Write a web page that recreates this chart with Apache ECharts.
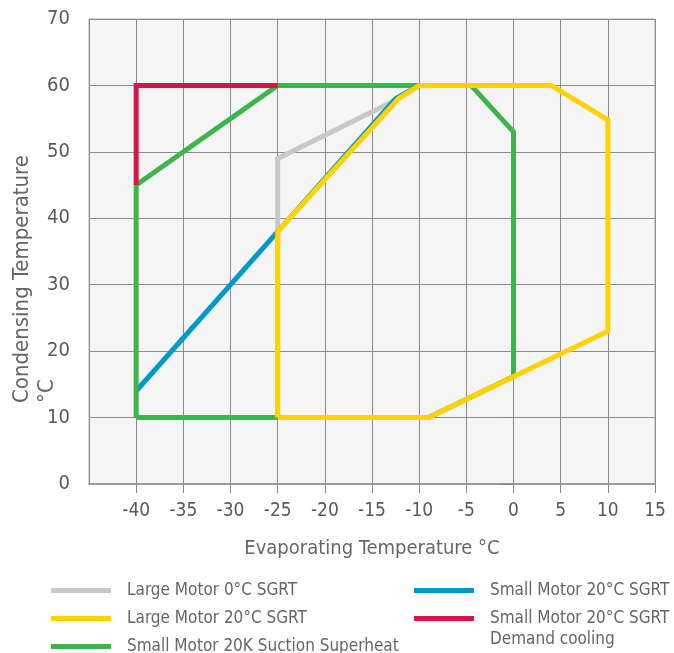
<!DOCTYPE html>
<html>
<head>
<meta charset="utf-8">
<script src="https://cdn.jsdelivr.net/npm/echarts@6/dist/echarts.min.js"></script>
<style>
html,body{margin:0;padding:0;background:#fff;}
#chart{width:674px;height:653px;}
</style>
</head>
<body>
<div id="chart"></div>
<script>
// ---- data (Evaporating °C, Condensing °C) ----
const seriesNames = [
  'Large Motor 0°C SGRT',
  'Large Motor 20°C SGRT',
  'Small Motor 20K Suction Superheat',
  'Small Motor 20°C SGRT',
  'Small Motor 20°C SGRT Demand cooling'
];
const largeMotor0 = [[-25,10],[-25,49],[-12.2,58],[-10,60]];
const largeMotor20 = [[-25,10],[-25,38],[-12.2,58],[-10,60],[4,60],[10,54.8],[10,23],[-9,10],[-25,10]];
const smallMotor20K = [[-40,10],[-40,45],[-25,60],[-4.5,60],[0,53],[0,16.2],[-9,10],[-40,10]];
const smallMotor20 = [[-40,14],[-25,38],[-12.5,58],[-10,60]];
const smallMotorDemand = [[-40,45],[-40,60],[-25,60]];
const xTicks = [-45,-40,-35,-30,-25,-20,-15,-10,-5,0,5,10,15];
const yTicks = [0,10,20,30,40,50,60,70];
const xTitle = 'Evaporating Temperature °C';
const yTitle = 'Condensing Temperature\n°C';
const demandNote = 'Demand cooling';

const colors = ['#c8c8c8','#ffd200','#3cb54a','#0099cc','#d6164a'];
const FONT = '"DejaVu Sans Condensed", "DejaVu Sans", sans-serif';

const chart = echarts.init(document.getElementById('chart'));

function lineSeries(name, data, color, z){
  return {
    name: name, type: 'line', data: data, showSymbol: false, symbol: 'none',
    z: z, animation: false, silent: true,
    lineStyle: { width: 5, color: color, join: 'miter', cap: 'butt' },
    itemStyle: { color: color }
  };
}

const legendText = { fontFamily: FONT, fontSize: 17, color: '#666', lineHeight: 20, padding: [0,0,5,11] };

const option = {
  backgroundColor: '#fff',
  animation: false,
  grid: {
    left: 89, right: 19, top: 19, bottom: 169,
    show: true, backgroundColor: '#f5f5f5', borderColor: '#b0b0b0', borderWidth: 1
  },
  xAxis: {
    type: 'value', min: xTicks[0], max: xTicks[xTicks.length-1], interval: 5,
    name: xTitle, nameLocation: 'middle', nameGap: 55,
    nameTextStyle: { fontFamily: FONT, fontSize: 20, color: '#666' },
    axisLine: { show: true, onZero: false, lineStyle: { color: '#999', width: 2 } },
    axisTick: { show: true, length: 9, lineStyle: { color: '#888' } },
    axisLabel: { showMinLabel: false, margin: 18, fontFamily: FONT, fontSize: 19, color: '#5a5a5a' },
    splitLine: { show: true, lineStyle: { color: '#8c8c8c', width: 1 } }
  },
  yAxis: {
    type: 'value', min: yTicks[0], max: yTicks[yTicks.length-1], interval: 10,
    axisLine: { show: true, lineStyle: { color: '#888', width: 1 } },
    axisTick: { show: true, length: 14, lineStyle: { color: '#888' } },
    axisLabel: { margin: 19, fontFamily: FONT, fontSize: 20, color: '#5a5a5a' },
    splitLine: { show: true, lineStyle: { color: '#8c8c8c', width: 1 } }
  },
  legend: [
    {
      data: seriesNames.slice(0,3), orient: 'vertical', left: 51, top: 578, height: 100,
      padding: 0, icon: 'rect', itemWidth: 60, itemHeight: 5, itemGap: 3, selectedMode: false,
      textStyle: legendText
    },
    {
      data: seriesNames.slice(3,5), orient: 'vertical', left: 414, top: 578, height: 100,
      padding: 0, icon: 'rect', itemWidth: 60, itemHeight: 5, itemGap: 3, selectedMode: false,
      formatter: function(n){ return n.replace(' ' + demandNote, ''); },
      textStyle: legendText
    }
  ],
  graphic: [
    {
      type: 'text', x: 10, y: 403, rotation: Math.PI/2,
      style: { text: yTitle, textAlign: 'left', textVerticalAlign: 'top',
               fontFamily: FONT, fontSize: 22, lineHeight: 25, fill: '#666' }
    },
    {
      type: 'text', x: 490, y: 640,
      style: { text: demandNote, textAlign: 'left', textVerticalAlign: 'middle',
               fontFamily: FONT, fontSize: 17, fill: '#666' }
    }
  ],
  series: [
    lineSeries(seriesNames[0], largeMotor0, colors[0], 2),
    lineSeries(seriesNames[3], smallMotor20, colors[3], 3),
    lineSeries(seriesNames[2], smallMotor20K, colors[2], 4),
    lineSeries(seriesNames[4], smallMotorDemand, colors[4], 5),
    lineSeries(seriesNames[1], largeMotor20, colors[1], 6)
  ]
};
chart.setOption(option);
</script>
</body>
</html>
